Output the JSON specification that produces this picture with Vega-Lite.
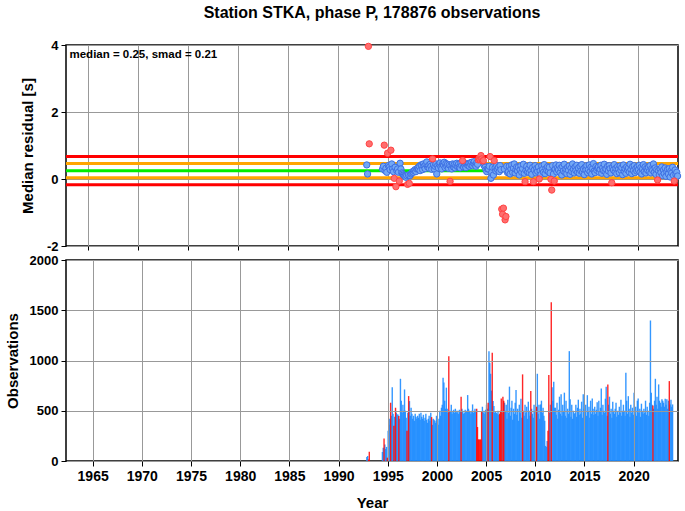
{
"$schema": "https://vega.github.io/schema/vega-lite/v6.json",
"padding": {"left": 4, "top": 4, "right": 0, "bottom": 0},
"config": {
  "font": "Liberation Sans",
  "view": {"stroke": "black", "strokeWidth": 1.5},
  "axis": {"labelFont": "Liberation Sans", "labelFontWeight": "bold", "labelFontSize": 14, "labelColor": "black",
           "titleFont": "Liberation Sans", "titleFontWeight": "bold", "titleFontSize": 15, "titleColor": "black",
           "gridColor": "#999999", "gridWidth": 1, "gridOpacity": 1, "tickColor": "black", "tickSize": 5, "tickWidth": 1,
           "domain": false, "labelPadding": 3},
  "axisY": {"labelFontSize": 13}
},
"datasets": {
"lines": [{"y": 0.67, "k": "2smad"}, {"y": -0.17, "k": "2smad"}, {"y": 0.46, "k": "smad"}, {"y": 0.04, "k": "smad"}, {"y": 0.25, "k": "median"}],
"note": [{"label": "median = 0.25, smad = 0.21"}],
"d": [
{"t":1992.875,"r":0.42,"n":40},{"t":1992.958,"r":0.15,"n":50},{"t":1993.042,"r":3.96,"n":15,"o":1},{"t":1993.125,"r":1.05,"n":93,"o":1},
{"t":1994.458,"r":0.30,"n":90},{"t":1994.542,"r":0.38,"n":133},{"t":1994.625,"r":1.01,"n":225,"o":1},{"t":1994.708,"r":0.25,"n":165},{"t":1994.792,"r":0.32,"n":120},{"t":1994.875,"r":0.20,"n":140},{"t":1994.958,"r":0.77,"n":33,"o":1},
{"t":1995.042,"r":0.40,"n":300},{"t":1995.125,"r":0.35,"n":360},{"t":1995.208,"r":0.28,"n":420},{"t":1995.292,"r":0.86,"n":580,"o":1},{"t":1995.375,"r":0.45,"n":450},{"t":1995.458,"r":0.30,"n":735},{"t":1995.542,"r":0.22,"n":470},{"t":1995.625,"r":0.02,"n":350,"o":1},{"t":1995.708,"r":0.35,"n":440},{"t":1995.792,"r":-0.23,"n":530,"o":1},{"t":1995.875,"r":0.25,"n":480},{"t":1995.958,"r":0.30,"n":463},
{"t":1996.042,"r":0.20,"n":463},{"t":1996.125,"r":-0.06,"n":447,"o":1},{"t":1996.208,"r":0.47,"n":420},{"t":1996.292,"r":0.30,"n":818},{"t":1996.375,"r":0.18,"n":600},{"t":1996.458,"r":0.15,"n":480},{"t":1996.542,"r":0.12,"n":560},{"t":1996.625,"r":0.10,"n":500},{"t":1996.708,"r":0.08,"n":712},{"t":1996.792,"r":0.05,"n":500},{"t":1996.875,"r":0.10,"n":430},{"t":1996.958,"r":-0.16,"n":300,"o":1},
{"t":1997.042,"r":0.12,"n":480},{"t":1997.125,"r":-0.13,"n":646,"o":1},{"t":1997.208,"r":0.10,"n":596},{"t":1997.292,"r":0.15,"n":450},{"t":1997.375,"r":0.18,"n":530},{"t":1997.458,"r":0.22,"n":470},{"t":1997.542,"r":0.20,"n":420},{"t":1997.625,"r":0.25,"n":450},{"t":1997.708,"r":0.28,"n":400},{"t":1997.792,"r":0.22,"n":470},{"t":1997.875,"r":0.30,"n":440},{"t":1997.958,"r":0.33,"n":420},
{"t":1998.042,"r":0.30,"n":450},{"t":1998.125,"r":0.38,"n":430},{"t":1998.208,"r":0.25,"n":470},{"t":1998.292,"r":0.42,"n":410},{"t":1998.375,"r":0.40,"n":480},{"t":1998.458,"r":0.28,"n":440},{"t":1998.542,"r":0.45,"n":420},{"t":1998.625,"r":0.38,"n":460},{"t":1998.708,"r":0.31,"n":400},{"t":1998.792,"r":0.44,"n":430},{"t":1998.875,"r":0.51,"n":470},{"t":1998.958,"r":0.36,"n":410},
{"t":1999.042,"r":0.40,"n":380},{"t":1999.125,"r":0.32,"n":420},{"t":1999.208,"r":0.44,"n":450},{"t":1999.292,"r":0.38,"n":400},{"t":1999.375,"r":0.29,"n":480},{"t":1999.458,"r":0.60,"n":437,"o":1},{"t":1999.542,"r":0.42,"n":360},{"t":1999.625,"r":0.30,"n":420},{"t":1999.708,"r":0.38,"n":410},{"t":1999.792,"r":0.45,"n":400},{"t":1999.875,"r":0.15,"n":380},{"t":1999.958,"r":0.40,"n":450},
{"t":2000.042,"r":0.33,"n":400},{"t":2000.125,"r":0.44,"n":360},{"t":2000.208,"r":0.48,"n":420},{"t":2000.292,"r":0.36,"n":500},{"t":2000.375,"r":0.30,"n":450},{"t":2000.458,"r":0.45,"n":530},{"t":2000.542,"r":0.42,"n":560},{"t":2000.625,"r":0.50,"n":828},{"t":2000.708,"r":0.34,"n":780},{"t":2000.792,"r":0.46,"n":600},{"t":2000.875,"r":0.38,"n":520},{"t":2000.958,"r":0.44,"n":730},
{"t":2001.042,"r":0.32,"n":520},{"t":2001.125,"r":0.42,"n":480},{"t":2001.208,"r":-0.07,"n":1043,"o":1},{"t":2001.292,"r":0.40,"n":500},{"t":2001.375,"r":0.30,"n":490},{"t":2001.458,"r":0.45,"n":560},{"t":2001.542,"r":0.36,"n":470},{"t":2001.625,"r":0.43,"n":500},{"t":2001.708,"r":0.33,"n":510},{"t":2001.792,"r":0.41,"n":480},{"t":2001.875,"r":0.47,"n":520},{"t":2001.958,"r":0.37,"n":500},
{"t":2002.042,"r":0.44,"n":480},{"t":2002.125,"r":0.36,"n":500},{"t":2002.208,"r":0.33,"n":470},{"t":2002.292,"r":0.48,"n":510},{"t":2002.375,"r":0.40,"n":490},{"t":2002.458,"r":0.55,"n":640,"o":1},{"t":2002.542,"r":0.36,"n":520},{"t":2002.625,"r":0.45,"n":500},{"t":2002.708,"r":0.39,"n":470},{"t":2002.792,"r":0.34,"n":480},{"t":2002.875,"r":0.46,"n":510},{"t":2002.958,"r":0.41,"n":490},
{"t":2003.042,"r":0.45,"n":500},{"t":2003.125,"r":0.38,"n":656},{"t":2003.208,"r":0.48,"n":520},{"t":2003.292,"r":0.42,"n":500},{"t":2003.375,"r":0.50,"n":490},{"t":2003.458,"r":0.40,"n":470},{"t":2003.542,"r":0.47,"n":500},{"t":2003.625,"r":0.52,"n":563},{"t":2003.708,"r":0.42,"n":480},{"t":2003.792,"r":0.38,"n":500},{"t":2003.875,"r":0.49,"n":520},{"t":2003.958,"r":0.44,"n":490},
{"t":2004.042,"r":0.57,"n":520,"o":1},{"t":2004.125,"r":0.62,"n":338,"o":1},{"t":2004.208,"r":0.58,"n":215,"o":1},{"t":2004.292,"r":0.70,"n":215,"o":1},{"t":2004.375,"r":0.60,"n":215,"o":1},{"t":2004.458,"r":0.54,"n":215,"o":1},{"t":2004.542,"r":0.55,"n":497,"o":1},{"t":2004.625,"r":0.40,"n":540},{"t":2004.708,"r":0.35,"n":480},{"t":2004.792,"r":0.28,"n":500},{"t":2004.875,"r":0.22,"n":470},{"t":2004.958,"r":0.30,"n":510},
{"t":2005.042,"r":0.30,"n":560},{"t":2005.125,"r":0.38,"n":520},{"t":2005.208,"r":0.67,"n":580,"o":1},{"t":2005.292,"r":0.02,"n":1093},{"t":2005.375,"r":0.20,"n":977},{"t":2005.458,"r":0.35,"n":868},{"t":2005.542,"r":0.12,"n":700},{"t":2005.625,"r":0.55,"n":1076,"o":1},{"t":2005.708,"r":0.33,"n":596},{"t":2005.792,"r":0.24,"n":547},{"t":2005.875,"r":0.40,"n":480},{"t":2005.958,"r":0.28,"n":490},
{"t":2006.042,"r":0.35,"n":480},{"t":2006.125,"r":0.22,"n":470},{"t":2006.208,"r":0.40,"n":500},{"t":2006.292,"r":0.28,"n":460},{"t":2006.375,"r":-0.90,"n":470,"o":1},{"t":2006.458,"r":-1.05,"n":500,"o":1},{"t":2006.542,"r":-0.87,"n":622,"o":1},{"t":2006.625,"r":0.30,"n":480},{"t":2006.708,"r":-1.22,"n":640,"o":1},{"t":2006.792,"r":-1.12,"n":600,"o":1},{"t":2006.875,"r":0.38,"n":580},{"t":2006.958,"r":0.19,"n":500},
{"t":2007.042,"r":0.22,"n":560},{"t":2007.125,"r":0.38,"n":420},{"t":2007.208,"r":0.15,"n":610},{"t":2007.292,"r":0.30,"n":480},{"t":2007.375,"r":0.42,"n":740},{"t":2007.458,"r":0.20,"n":450},{"t":2007.542,"r":0.33,"n":530},{"t":2007.625,"r":0.45,"n":600},{"t":2007.708,"r":0.18,"n":410},{"t":2007.792,"r":0.28,"n":520},{"t":2007.875,"r":0.36,"n":470},{"t":2007.958,"r":0.24,"n":580},
{"t":2008.042,"r":0.35,"n":707},{"t":2008.125,"r":0.12,"n":460},{"t":2008.208,"r":0.28,"n":520},{"t":2008.292,"r":0.40,"n":400},{"t":2008.375,"r":0.20,"n":560},{"t":2008.458,"r":0.31,"n":480},{"t":2008.542,"r":0.44,"n":620},{"t":2008.625,"r":0.17,"n":430},{"t":2008.708,"r":-0.08,"n":862,"o":1},{"t":2008.792,"r":0.26,"n":500},{"t":2008.875,"r":0.38,"n":450},{"t":2008.958,"r":0.21,"n":560},
{"t":2009.042,"r":0.30,"n":480},{"t":2009.125,"r":0.19,"n":540},{"t":2009.208,"r":0.41,"n":420},{"t":2009.292,"r":0.25,"n":590},{"t":2009.375,"r":0.14,"n":500},{"t":2009.458,"r":0.34,"n":450},{"t":2009.542,"r":-0.08,"n":697,"o":1},{"t":2009.625,"r":0.27,"n":520},{"t":2009.708,"r":0.40,"n":470},{"t":2009.792,"r":0.18,"n":430},{"t":2009.875,"r":0.32,"n":560},{"t":2009.958,"r":0.23,"n":500},
{"t":2010.042,"r":0.36,"n":520},{"t":2010.125,"r":0.00,"n":540,"o":1},{"t":2010.208,"r":0.24,"n":868},{"t":2010.292,"r":0.13,"n":470},{"t":2010.375,"r":0.39,"n":560},{"t":2010.458,"r":0.28,"n":420},{"t":2010.542,"r":0.20,"n":563},{"t":2010.625,"r":0.43,"n":600},{"t":2010.708,"r":0.16,"n":480},{"t":2010.792,"r":0.31,"n":530},{"t":2010.875,"r":0.25,"n":450},{"t":2010.958,"r":0.37,"n":400},
{"t":2011.042,"r":0.22,"n":150},{"t":2011.125,"r":0.35,"n":140},{"t":2011.208,"r":0.18,"n":200},{"t":2011.292,"r":-0.01,"n":300,"o":1},{"t":2011.375,"r":-0.33,"n":855,"o":1},{"t":2011.458,"r":0.40,"n":480},{"t":2011.542,"r":0.15,"n":560},{"t":2011.625,"r":-0.06,"n":1580,"o":1},{"t":2011.708,"r":0.30,"n":735},{"t":2011.792,"r":0.42,"n":600},{"t":2011.875,"r":0.21,"n":788},{"t":2011.958,"r":0.34,"n":530},
{"t":2012.042,"r":0.27,"n":530},{"t":2012.125,"r":0.41,"n":460},{"t":2012.208,"r":0.19,"n":580},{"t":2012.292,"r":0.33,"n":420},{"t":2012.375,"r":0.12,"n":510},{"t":2012.458,"r":0.37,"n":640},{"t":2012.542,"r":0.24,"n":470},{"t":2012.625,"r":0.44,"n":665},{"t":2012.708,"r":0.20,"n":450},{"t":2012.792,"r":0.30,"n":560},{"t":2012.875,"r":0.16,"n":490},{"t":2012.958,"r":0.35,"n":680},
{"t":2013.042,"r":0.26,"n":450},{"t":2013.125,"r":0.39,"n":600},{"t":2013.208,"r":0.14,"n":430},{"t":2013.292,"r":0.32,"n":520},{"t":2013.375,"r":0.22,"n":470},{"t":2013.458,"r":0.45,"n":1093},{"t":2013.542,"r":0.29,"n":615},{"t":2013.625,"r":0.18,"n":440},{"t":2013.708,"r":0.36,"n":560},{"t":2013.792,"r":0.25,"n":420},{"t":2013.875,"r":0.41,"n":500},{"t":2013.958,"r":0.20,"n":470},
{"t":2014.042,"r":0.33,"n":480},{"t":2014.125,"r":0.17,"n":560},{"t":2014.208,"r":0.38,"n":440},{"t":2014.292,"r":0.24,"n":530},{"t":2014.375,"r":0.43,"n":610},{"t":2014.458,"r":0.21,"n":460},{"t":2014.542,"r":0.30,"n":520},{"t":2014.625,"r":0.13,"n":470},{"t":2014.708,"r":0.35,"n":590},{"t":2014.792,"r":0.27,"n":430},{"t":2014.875,"r":0.40,"n":663},{"t":2014.958,"r":0.19,"n":520},
{"t":2015.042,"r":0.28,"n":500},{"t":2015.125,"r":0.42,"n":560},{"t":2015.208,"r":0.22,"n":450},{"t":2015.292,"r":0.35,"n":655},{"t":2015.375,"r":0.15,"n":490},{"t":2015.458,"r":0.31,"n":540},{"t":2015.542,"r":0.46,"n":430},{"t":2015.625,"r":0.24,"n":600},{"t":2015.708,"r":0.19,"n":470},{"t":2015.792,"r":0.37,"n":622},{"t":2015.875,"r":0.26,"n":520},{"t":2015.958,"r":0.33,"n":460},
{"t":2016.042,"r":0.36,"n":540},{"t":2016.125,"r":0.20,"n":470},{"t":2016.208,"r":0.29,"n":510},{"t":2016.292,"r":0.41,"n":585},{"t":2016.375,"r":0.17,"n":450},{"t":2016.458,"r":0.33,"n":600},{"t":2016.542,"r":0.25,"n":490},{"t":2016.625,"r":0.44,"n":530},{"t":2016.708,"r":0.22,"n":722},{"t":2016.792,"r":0.30,"n":460},{"t":2016.875,"r":0.14,"n":560},{"t":2016.958,"r":0.38,"n":500},
{"t":2017.042,"r":0.24,"n":480},{"t":2017.125,"r":0.40,"n":620},{"t":2017.208,"r":0.31,"n":740},{"t":2017.292,"r":0.18,"n":450},{"t":2017.375,"r":-0.11,"n":762,"o":1},{"t":2017.458,"r":0.35,"n":560},{"t":2017.542,"r":0.27,"n":640},{"t":2017.625,"r":0.43,"n":470},{"t":2017.708,"r":0.21,"n":520},{"t":2017.792,"r":0.32,"n":430},{"t":2017.875,"r":0.16,"n":590},{"t":2017.958,"r":0.37,"n":500},
{"t":2018.042,"r":0.29,"n":470},{"t":2018.125,"r":0.19,"n":520},{"t":2018.208,"r":0.39,"n":580},{"t":2018.292,"r":0.26,"n":440},{"t":2018.375,"r":0.34,"n":500},{"t":2018.458,"r":0.13,"n":460},{"t":2018.542,"r":0.42,"n":540},{"t":2018.625,"r":0.23,"n":480},{"t":2018.708,"r":0.31,"n":610},{"t":2018.792,"r":0.17,"n":450},{"t":2018.875,"r":0.36,"n":500},{"t":2018.958,"r":0.27,"n":560},
{"t":2019.042,"r":0.33,"n":500},{"t":2019.125,"r":0.21,"n":450},{"t":2019.208,"r":0.44,"n":878},{"t":2019.292,"r":0.28,"n":600},{"t":2019.375,"r":0.16,"n":470},{"t":2019.458,"r":0.37,"n":645},{"t":2019.542,"r":0.25,"n":520},{"t":2019.625,"r":0.40,"n":440},{"t":2019.708,"r":0.19,"n":560},{"t":2019.792,"r":0.32,"n":480},{"t":2019.875,"r":0.24,"n":530},{"t":2019.958,"r":0.38,"n":460},
{"t":2020.042,"r":0.27,"n":680},{"t":2020.125,"r":0.41,"n":470},{"t":2020.208,"r":0.20,"n":540},{"t":2020.292,"r":0.34,"n":450},{"t":2020.375,"r":0.15,"n":600},{"t":2020.458,"r":0.30,"n":622},{"t":2020.542,"r":0.43,"n":480},{"t":2020.625,"r":0.22,"n":520},{"t":2020.708,"r":0.36,"n":440},{"t":2020.792,"r":0.18,"n":570},{"t":2020.875,"r":0.32,"n":500},{"t":2020.958,"r":0.26,"n":470},
{"t":2021.042,"r":0.35,"n":520},{"t":2021.125,"r":0.22,"n":480},{"t":2021.208,"r":0.40,"n":600},{"t":2021.292,"r":0.18,"n":460},{"t":2021.375,"r":0.31,"n":540},{"t":2021.458,"r":0.26,"n":500},{"t":2021.542,"r":0.45,"n":450},{"t":2021.625,"r":0.20,"n":580},{"t":2021.708,"r":0.33,"n":1398},{"t":2021.792,"r":0.14,"n":680},{"t":2021.875,"r":0.28,"n":560},{"t":2021.958,"r":-0.03,"n":553,"o":1},
{"t":2022.042,"r":0.25,"n":520},{"t":2022.125,"r":0.12,"n":600},{"t":2022.208,"r":0.30,"n":818},{"t":2022.292,"r":0.19,"n":560},{"t":2022.375,"r":0.36,"n":640},{"t":2022.458,"r":0.10,"n":520},{"t":2022.542,"r":0.27,"n":762},{"t":2022.625,"r":0.16,"n":600},{"t":2022.708,"r":0.33,"n":580},{"t":2022.792,"r":0.08,"n":540},{"t":2022.875,"r":0.22,"n":615},{"t":2022.958,"r":0.29,"n":600},
{"t":2023.042,"r":0.15,"n":580},{"t":2023.125,"r":0.31,"n":540},{"t":2023.208,"r":0.06,"n":620},{"t":2023.292,"r":0.24,"n":560},{"t":2023.375,"r":0.18,"n":615},{"t":2023.458,"r":0.35,"n":520},{"t":2023.542,"r":0.11,"n":600},{"t":2023.625,"r":-0.06,"n":795,"o":1},{"t":2023.708,"r":0.27,"n":563},{"t":2023.792,"r":0.13,"n":610},{"t":2023.875,"r":0.20,"n":540},{"t":2023.958,"r":0.09,"n":563}
]
},
"spacing": 14,
"bounds": "flush",
"vconcat": [
{
  "width": 612, "height": 201,
  "title": {"text": "Station STKA, phase P, 178876 observations", "font": "Liberation Sans", "fontSize": 16, "fontWeight": "bold", "color": "black", "anchor": "middle", "offset": 18},
  "layer": [
    {"data": {"name": "lines"}, "mark": {"type": "rule", "strokeWidth": 3},
     "encoding": {
       "y": {"field": "y", "type": "quantitative", "scale": {"domain": [-2, 4], "nice": false, "zero": false},
             "axis": {"values": [-2, 0, 2, 4], "labelExpr": "'' + datum.value", "title": "Median residual [s]", "titlePadding": 11, "grid": true}},
       "color": {"field": "k", "type": "nominal", "scale": {"domain": ["median", "smad", "2smad"], "range": ["#00ee00", "#ffa500", "#ff0000"]}, "legend": null}
     }},
    {"data": {"name": "d"}, "transform": [{"filter": "!datum.o"}],
     "mark": {"type": "circle", "size": 40, "fill": "#72a8f5", "stroke": "#3d6fe3", "strokeWidth": 1, "opacity": 1},
     "encoding": {
       "x": {"field": "t", "type": "quantitative", "scale": {"domain": [1962.8, 2024.0], "nice": false, "zero": false},
             "axis": {"values": [1965, 1970, 1975, 1980, 1985, 1990, 1995, 2000, 2005, 2010, 2015, 2020], "labels": false, "title": null, "tickSize": 4, "grid": true}},
       "y": {"field": "r", "type": "quantitative", "scale": {"domain": [-2, 4], "nice": false, "zero": false},
             "axis": {"values": [-2, 0, 2, 4], "labelExpr": "'' + datum.value", "title": "Median residual [s]", "titlePadding": 11, "grid": true}}
     }},
    {"data": {"name": "d"}, "transform": [{"filter": "datum.o"}],
     "mark": {"type": "circle", "size": 40, "fill": "#ff6e6e", "stroke": "#ff4444", "strokeWidth": 1, "opacity": 1},
     "encoding": {
       "x": {"field": "t", "type": "quantitative", "scale": {"domain": [1962.8, 2024.0], "nice": false, "zero": false}},
       "y": {"field": "r", "type": "quantitative", "scale": {"domain": [-2, 4], "nice": false, "zero": false}}
     }},
    {"data": {"name": "note"},
     "mark": {"type": "text", "align": "left", "baseline": "middle", "font": "Liberation Sans", "fontWeight": "bold", "fontSize": 11.5, "color": "black"},
     "encoding": {
       "text": {"field": "label"},
       "x": {"datum": 1963.15, "type": "quantitative"},
       "y": {"datum": 3.7, "type": "quantitative"}
     }}
  ]
},
{
  "width": 612, "height": 201,
  "data": {"name": "d"},
  "layer": [
    {"transform": [{"filter": "!datum.o"}],
     "mark": {"type": "bar", "orient": "vertical", "width": 1.4, "color": "#1e8cff", "opacity": 0.9},
     "encoding": {
       "x": {"field": "t", "type": "quantitative", "scale": {"domain": [1962.8, 2024.0], "nice": false, "zero": false},
             "axis": {"values": [1965, 1970, 1975, 1980, 1985, 1990, 1995, 2000, 2005, 2010, 2015, 2020], "format": "d", "title": "Year", "titlePadding": 12, "grid": true, "zindex": 1}},
       "y": {"field": "n", "type": "quantitative", "stack": null, "scale": {"domain": [0, 2000], "nice": false},
             "axis": {"values": [0, 500, 1000, 1500, 2000], "format": "d", "title": "Observations", "titlePadding": 9, "grid": true, "zindex": 1}}
     }},
    {"transform": [{"filter": "datum.o"}],
     "mark": {"type": "bar", "orient": "vertical", "width": 1.4, "color": "#ff0000", "opacity": 0.85},
     "encoding": {
       "x": {"field": "t", "type": "quantitative", "scale": {"domain": [1962.8, 2024.0], "nice": false, "zero": false}},
       "y": {"field": "n", "type": "quantitative", "stack": null, "scale": {"domain": [0, 2000], "nice": false}}
     }}
  ]
}
]
}
